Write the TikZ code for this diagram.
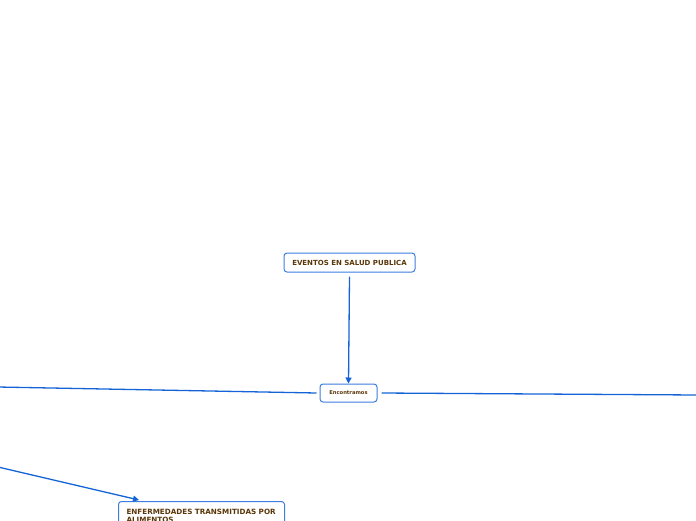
\documentclass[tikz,border=0pt]{standalone}
\usepackage{fontspec}
\setmainfont{DejaVu Sans}
\usetikzlibrary{arrows.meta}
\definecolor{linkblue}{RGB}{20,100,215}
\definecolor{boxblue}{RGB}{60,125,225}
\definecolor{txtbrown}{RGB}{90,55,10}
\tikzset{
  topic/.style={draw=boxblue, line width=1pt, rounded corners=3pt, fill=white, text=txtbrown, font=\bfseries, inner sep=0pt, anchor=center},
  link/.style={draw=linkblue, line width=1.3pt},
  linkarrow/.style={link, -{Triangle[length=6pt,width=6pt]}}
}
\begin{document}
\begin{tikzpicture}[x=1pt,y=-1pt]
\useasboundingbox (0,0) rectangle (696,520);
\clip (0,0) rectangle (696,520);
\node[topic, minimum width=131pt, minimum height=19pt, font=\bfseries\fontsize{7}{8}\selectfont] (eventos) at (349.5,262.5) {EVENTOS EN SALUD PUBLICA};
\node[topic, minimum width=57pt, minimum height=18pt, font=\bfseries\fontsize{5.2}{6}\selectfont] (encontramos) at (348.5,393) {Encontramos};
\node[topic, minimum width=166pt, minimum height=40pt, anchor=north west, align=left, text width=150pt, font=\bfseries\fontsize{7.2}{8}\selectfont] (etas) at (118,501) {\hspace*{0pt}\\[-14pt]ENFERMEDADES TRANSMITIDAS POR\\ALIMENTOS};
\coordinate (leftend) at (-2,387);
\coordinate (rightend) at (698,395);
\coordinate (lowleft) at (-2,467);
\coordinate (etastip) at (139,500);
\draw[linkarrow] ([yshift=-4pt]eventos.south) -- (encontramos.north);
\draw[link] ([xshift=-3pt]encontramos.west) -- (leftend);
\draw[link] ([xshift=4pt]encontramos.east) -- (rightend);
\draw[linkarrow] (lowleft) -- (etastip);
\end{tikzpicture}
\end{document}
